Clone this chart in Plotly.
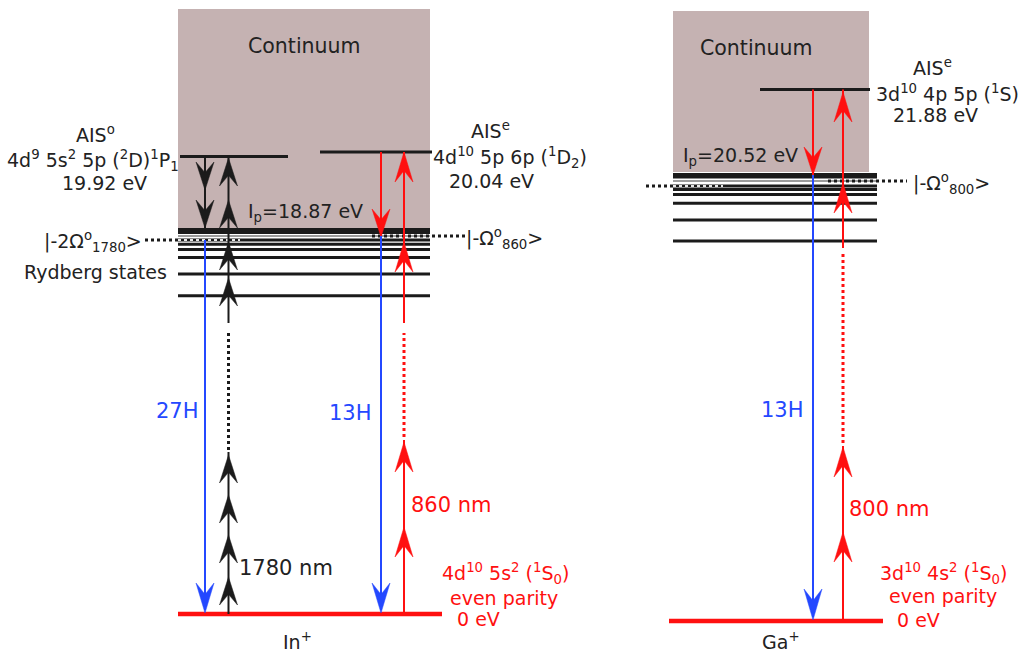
import plotly.graph_objects as go

W, H = 1020, 656

# ---------------- level data (eV) and labels ----------------
in_ion = "In<sup>+</sup>"
in_ground_eV = 0.0
in_ip_eV = 18.87
in_ais_odd_eV = 19.92
in_ais_even_eV = 20.04
in_ground_cfg = "4d<sup>10</sup> 5s<sup>2</sup> (<sup>1</sup>S<sub>0</sub>)"
in_ais_odd_cfg = "4d<sup>9</sup> 5s<sup>2</sup> 5p (<sup>2</sup>D)<sup>1</sup>P<sub>1</sub>"
in_ais_even_cfg = "4d<sup>10</sup> 5p 6p (<sup>1</sup>D<sub>2</sub>)"
in_drivers_nm = [1780, 860]
in_harmonics = [27, 13]

ga_ion = "Ga<sup>+</sup>"
ga_ground_eV = 0.0
ga_ip_eV = 20.52
ga_ais_even_eV = 21.88
ga_ground_cfg = "3d<sup>10</sup> 4s<sup>2</sup> (<sup>1</sup>S<sub>0</sub>)"
ga_ais_even_cfg = "3d<sup>10</sup> 4p 5p (<sup>1</sup>S)"
ga_drivers_nm = [800]
ga_harmonics = [13]

# ---------------- schematic layout (diagram units = px) ----------------
# In+ panel
IN_X = (178, 430)
IN_CONT_TOP = 9
IN_IP_Y = 228
IN_RYD_Y = [229.5, 232.5, 240, 244.2, 249.4, 257.5, 274, 295.7]
IN_DRESS_LEFT_Y = 240      # |-2Omega> (1780 nm) dressed level
IN_DRESS_RIGHT_Y = 236     # |-Omega>  (860 nm) dressed level
IN_AIS_ODD = (180, 288, 156.5)
IN_AIS_EVEN = (320, 432, 152)
IN_GROUND = (178, 442, 614)
IN_X_DOWN_BLACK = 205
IN_X_UP_BLACK = 228.5
IN_X_DOWN_RED = 381
IN_X_UP_RED = 404
IN_UP_BLACK_TIPS = [577, 535, 495, 455, 278, 242, 200, 158]
IN_DOWN_BLACK_TIPS = [190, 228]
IN_UP_RED_TIPS = [527, 442, 242, 152]

# Ga+ panel
GA_X = (673, 869)
GA_RYD_X1 = 877
GA_CONT_TOP = 11
GA_IP_Y = 172
GA_RYD_Y = [174.5, 177, 186, 189.5, 194.5, 203.3, 220, 241]
GA_DRESS_LEFT_Y = 186
GA_DRESS_RIGHT_Y = 181
GA_AIS_EVEN = (760, 870, 89.5)
GA_GROUND = (669, 883, 621)
GA_X_DOWN = 813
GA_X_UP = 843
GA_UP_RED_TIPS = [532, 447, 183, 92]

BLACK = "#1b1b1b"
TXT = "#222222"
RED = "#ff1010"
BLUE = "#2448ff"
CONT = "#c5b2b2"
FONT = "DejaVu Sans"
BIG = 21

shapes = []
annotations = []


def seg(x0, y0, x1, y1, color, width, dash=None):
    line = dict(color=color, width=width)
    if dash:
        line["dash"] = dash
    shapes.append(dict(type="line", xref="x", yref="y", x0=x0, y0=y0,
                       x1=x1, y1=y1, line=line, layer="above"))


def head(x, tip, up, color, L=28, w=18):
    base = tip + L if up else tip - L
    notch = tip + 0.62 * L if up else tip - 0.62 * L
    path = (f"M{x},{tip} L{x + w / 2},{base} L{x},{notch} "
            f"L{x - w / 2},{base} Z")
    shapes.append(dict(type="path", xref="x", yref="y", path=path,
                       fillcolor=color, line=dict(color=color, width=0.5),
                       layer="above"))


def rect(x0, y0, x1, y1, color):
    shapes.append(dict(type="rect", xref="x", yref="y", x0=x0, y0=y0,
                       x1=x1, y1=y1, fillcolor=color, line=dict(width=0),
                       layer="below"))


def label(x, y, text, color=TXT, anchor="left", size=19):
    annotations.append(dict(x=x, y=y, xref="x", yref="y", text=text,
                            showarrow=False, xanchor=anchor, yanchor="middle",
                            font=dict(family=FONT, size=size, color=color)))


# ================= In+ =================
rect(IN_X[0], IN_CONT_TOP, IN_X[1], IN_IP_Y, CONT)
for y in IN_RYD_Y:
    seg(IN_X[0], y, IN_X[1], y, BLACK, 3)
seg(IN_X[0], IN_DRESS_RIGHT_Y, IN_X[1], IN_DRESS_RIGHT_Y, "#9c9c9c", 2)
# dressed states
seg(145, IN_DRESS_LEFT_Y, IN_X[0], IN_DRESS_LEFT_Y, BLACK, 3, "3px,3px")
seg(IN_X[0], IN_DRESS_LEFT_Y, 240, IN_DRESS_LEFT_Y, "#e8e8e8", 2, "3px,3px")
seg(372, IN_DRESS_RIGHT_Y, 465, IN_DRESS_RIGHT_Y, BLACK, 3, "3px,3px")
# autoionizing states and ground state
seg(IN_AIS_ODD[0], IN_AIS_ODD[2], IN_AIS_ODD[1], IN_AIS_ODD[2], BLACK, 3)
seg(IN_AIS_EVEN[0], IN_AIS_EVEN[2], IN_AIS_EVEN[1], IN_AIS_EVEN[2], BLACK, 3)
seg(IN_GROUND[0], IN_GROUND[2], IN_GROUND[1], IN_GROUND[2], RED, 4.5)

# 1780 nm multiphoton ladder
seg(IN_X_UP_BLACK, IN_GROUND[2], IN_X_UP_BLACK, 452, BLACK, 2)
seg(IN_X_UP_BLACK, 450, IN_X_UP_BLACK, 330, BLACK, 3, "3px,3px")
seg(IN_X_UP_BLACK, 323, IN_X_UP_BLACK, IN_AIS_ODD[2], BLACK, 2)
for t in IN_UP_BLACK_TIPS:
    head(IN_X_UP_BLACK, t, True, BLACK)
seg(IN_X_DOWN_BLACK, IN_AIS_ODD[2], IN_X_DOWN_BLACK, IN_IP_Y, BLACK, 2)
for t in IN_DOWN_BLACK_TIPS:
    head(IN_X_DOWN_BLACK, t, False, BLACK)
# 27H emission
seg(IN_X_DOWN_BLACK, IN_DRESS_LEFT_Y, IN_X_DOWN_BLACK, IN_GROUND[2] - 4, BLUE, 2)
head(IN_X_DOWN_BLACK, IN_GROUND[2] - 1, False, BLUE, L=30)

# 860 nm ladder
seg(IN_X_UP_RED, IN_GROUND[2], IN_X_UP_RED, 440, RED, 2)
seg(IN_X_UP_RED, 437, IN_X_UP_RED, 333, RED, 3, "3px,3px")
seg(IN_X_UP_RED, 323, IN_X_UP_RED, IN_AIS_EVEN[2], RED, 2)
for t in IN_UP_RED_TIPS:
    head(IN_X_UP_RED, t, True, RED, L=30)
seg(IN_X_DOWN_RED, IN_AIS_EVEN[2], IN_X_DOWN_RED, IN_DRESS_RIGHT_Y, RED, 2)
head(IN_X_DOWN_RED, IN_DRESS_RIGHT_Y + 1, False, RED)
# 13H emission
seg(IN_X_DOWN_RED, IN_DRESS_RIGHT_Y, IN_X_DOWN_RED, IN_GROUND[2] - 4, BLUE, 2)
head(IN_X_DOWN_RED, IN_GROUND[2] - 1, False, BLUE, L=30)

# ================= Ga+ =================
rect(GA_X[0], GA_CONT_TOP, GA_X[1], GA_IP_Y, CONT)
for y in GA_RYD_Y:
    seg(GA_X[0], y, GA_RYD_X1, y, BLACK, 3)
seg(GA_X[0], GA_DRESS_RIGHT_Y, GA_RYD_X1, GA_DRESS_RIGHT_Y, "#9c9c9c", 2)
seg(646, GA_DRESS_LEFT_Y, GA_X[0], GA_DRESS_LEFT_Y, BLACK, 3, "3px,3px")
seg(GA_X[0], GA_DRESS_LEFT_Y, 723, GA_DRESS_LEFT_Y, "#e8e8e8", 2, "3px,3px")
seg(828, GA_DRESS_RIGHT_Y, 907, GA_DRESS_RIGHT_Y, BLACK, 3, "3px,3px")
seg(GA_AIS_EVEN[0], GA_AIS_EVEN[2], GA_AIS_EVEN[1], GA_AIS_EVEN[2], BLACK, 3)
seg(GA_GROUND[0], GA_GROUND[2], GA_GROUND[1], GA_GROUND[2], RED, 4.5)

# 800 nm ladder
seg(GA_X_UP, GA_GROUND[2], GA_X_UP, 446, RED, 2)
seg(GA_X_UP, 443, GA_X_UP, 252, RED, 3, "3px,3px")
seg(GA_X_UP, 248, GA_X_UP, GA_AIS_EVEN[2], RED, 2)
for t in GA_UP_RED_TIPS:
    head(GA_X_UP, t, True, RED, L=30)
seg(GA_X_DOWN, GA_AIS_EVEN[2], GA_X_DOWN, GA_IP_Y + 3, RED, 2)
head(GA_X_DOWN, GA_IP_Y + 3, False, RED)
# 13H emission
seg(GA_X_DOWN, GA_IP_Y + 3, GA_X_DOWN, GA_GROUND[2] - 4, BLUE, 2)
head(GA_X_DOWN, GA_GROUND[2] - 1, False, BLUE, L=31)

# ================= text =================
label(304, 46, "Continuum", anchor="center", size=20.5)
label(95, 134, "AIS<sup>o</sup>", anchor="center")
label(93, 160, in_ais_odd_cfg, anchor="center")
label(104, 183, f"{in_ais_odd_eV:.2f} eV", anchor="center")
label(246, 212, f"I<sub>p</sub>={in_ip_eV:.2f} eV")
label(144, 241, "|-2Ω<sup>o</sup><sub>1780</sub>>", anchor="right")
label(169, 272, "Rydberg states", anchor="right")
label(201, 411, f"{in_harmonics[0]}H", BLUE, anchor="right", size=BIG)
label(237, 568, f"{in_drivers_nm[0]} nm", size=BIG)
label(490, 130, "AIS<sup>e</sup>", anchor="center")
label(431, 157, in_ais_even_cfg)
label(491, 181, f"{in_ais_even_eV:.2f} eV", anchor="center")
label(464, 238, "|-Ω<sup>o</sup><sub>860</sub>>")
label(374, 413, f"{in_harmonics[1]}H", BLUE, anchor="right", size=BIG)
label(409, 505, f"{in_drivers_nm[1]} nm", RED, size=BIG)
label(505, 573, in_ground_cfg, RED, anchor="center")
label(504, 598, "even parity", RED, anchor="center")
label(478, 619, f"{in_ground_eV:.0f} eV", RED, anchor="center")
label(297, 641, in_ion, anchor="center")

label(756, 48, "Continuum", anchor="center", size=20.5)
label(932, 67, "AIS<sup>e</sup>", anchor="center")
label(874, 93, ga_ais_even_cfg)
label(935, 115, f"{ga_ais_even_eV:.2f} eV", anchor="center")
label(681, 156, f"I<sub>p</sub>={ga_ip_eV:.2f} eV")
label(911, 183, "|-Ω<sup>o</sup><sub>800</sub>>")
label(806, 410, f"{ga_harmonics[0]}H", BLUE, anchor="right", size=BIG)
label(847, 509, f"{ga_drivers_nm[0]} nm", RED, size=BIG)
label(943, 573, ga_ground_cfg, RED, anchor="center")
label(943, 596, "even parity", RED, anchor="center")
label(918, 620, f"{ga_ground_eV:.0f} eV", RED, anchor="center")
label(781, 641, ga_ion, anchor="center")

fig = go.Figure()
fig.update_layout(
    width=W, height=H, autosize=False,
    margin=dict(l=0, r=0, t=0, b=0, pad=0),
    paper_bgcolor="white", plot_bgcolor="white",
    xaxis=dict(range=[0, W], visible=False, fixedrange=True),
    yaxis=dict(range=[H, 0], visible=False, fixedrange=True),
    shapes=shapes, annotations=annotations, showlegend=False,
)
fig.write_html("out.html")
